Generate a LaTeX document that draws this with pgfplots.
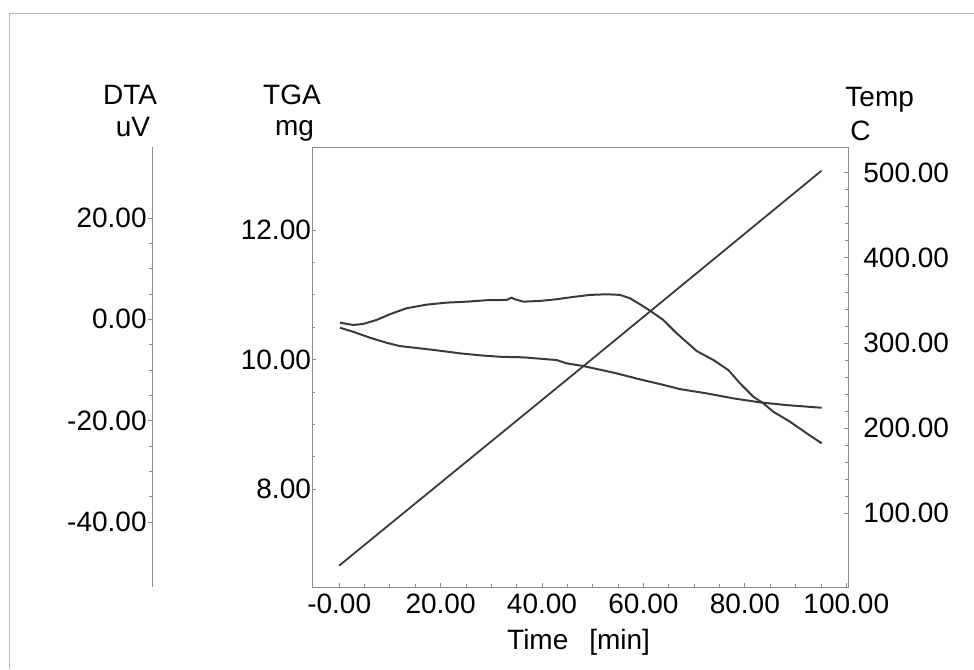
\documentclass[border=0pt]{standalone}
\usepackage{fontspec}
\setmainfont{Liberation Sans}
\usepackage{pgfplots}
\pgfplotsset{compat=1.18}

\definecolor{axisgray}{HTML}{8C8C8C}
\definecolor{curve}{HTML}{3A3A3A}

\pgfplotsset{
  box/.style={scale only axis, width=268pt, height=220pt,
    at={(156.15pt,41pt)}, anchor=south west, xmin=-5.3, xmax=100.4},
  every tick label/.append style={font=\fontsize{14}{16}\selectfont},
  thin axis/.style={axis line style={axisgray, line width=0.4pt},
    tick style={axisgray, line width=0.4pt},
    major tick length=2pt, minor tick length=1.5pt},
}

\begin{document}
\begin{tikzpicture}
\useasboundingbox (0,0) rectangle (487pt,334.5pt);
\draw[gray!55, line width=0.5pt] (4.5pt,0) -- (4.5pt,327.5pt) -- (487pt,327.5pt);

% TGA, left axis of the box
\begin{axis}[box, thin axis,
  ymin=6.49, ymax=13.28,
  tick align=inside,
  xtick pos=bottom, ytick pos=left,
  xtick={0,20,40,60,80,100},
  xticklabels={-0.00,20.00,40.00,60.00,80.00,100.00},
  ytick={8,10,12}, yticklabels={8.00,10.00,12.00},
  minor x tick num=3, minor y tick num=3,
  yticklabel style={inner xsep=0.5pt},
]
\addplot[curve, line width=1pt] coordinates {
  (0.14,10.491) (2.76,10.429) (6.06,10.337) (9.35,10.259) (11.97,10.208)
  (15.92,10.173) (19.86,10.136) (23.8,10.096) (27.75,10.065) (31.69,10.043)
  (36.3,10.034) (42.9,9.992) (44.85,9.941) (48.13,9.900) (54.71,9.787)
  (59.31,9.694) (63.25,9.622) (67.2,9.544) (72.47,9.478) (77.71,9.401)
  (82.98,9.339) (88.24,9.297) (95.15,9.256)
};
\end{axis}

% Temp, right axis
\begin{axis}[box, thin axis,
  ymin=13.4, ymax=530.2,
  axis y line*=right, hide x axis,
  tick align=inside,
  ytick={100,200,300,400,500},
  yticklabels={100.00,200.00,300.00,400.00,500.00},
  minor y tick num=4,
  yticklabel style={xshift=4pt},
]
\addplot[curve, line width=0.9pt] coordinates {
  (0,38.5) (48.2,273.0) (95.1,502.3)
};
\end{axis}

% DTA curve
\begin{axis}[box, ymin=-52.8, ymax=34.0, hide axis]
\addplot[curve, line width=1pt] coordinates {
  (0.14,-0.65) (2.76,-1.11) (4.73,-0.91) (7.38,-0.12) (10.0,1.01)
  (13.29,2.19) (17.24,2.90) (21.18,3.30) (25.13,3.49) (29.07,3.77)
  (33.02,3.83) (34.0,4.28) (34.65,3.97) (36.29,3.49) (39.59,3.63)
  (42.88,3.97) (46.15,4.42) (49.45,4.82) (52.74,4.95) (55.37,4.82)
  (57.34,4.16) (59.31,2.98) (61.29,1.72) (63.91,-0.12) (66.55,-2.74)
  (70.49,-6.24) (73.77,-8.01) (76.73,-9.99) (79.03,-12.61) (81.66,-15.25)
  (83.63,-16.56) (85.6,-18.22) (88.9,-20.19) (92.19,-22.48) (95.15,-24.45)
};
\end{axis}

% DTA scale, standing apart on the left
\begin{axis}[thin axis, scale only axis, width=20pt, height=220pt,
  at={(76pt,41pt)}, anchor=south west,
  xmin=0, xmax=1, ymin=-52.8, ymax=34.0,
  hide x axis, axis y line*=left,
  tick align=outside,
  ytick={-40,-20,0,20},
  yticklabels={-40.00,-20.00,0.00,20.00},
  minor y tick num=3,
  yticklabel style={inner xsep=0.5pt},
]
\end{axis}

\begin{scope}[every node/.style={inner sep=0pt, font=\fontsize{14}{16}\selectfont}]
\node[anchor=base] at (65pt,282pt) {DTA};
\node[anchor=base] at (66.5pt,266pt) {uV};
\node[anchor=base] at (146pt,282pt) {TGA};
\node[anchor=base] at (147.25pt,266.5pt) {mg};
\node[anchor=base west] at (422.5pt,281pt) {Temp};
\node[anchor=base west] at (425pt,264pt) {C};
\node[anchor=base] at (289.3pt,9.5pt) {Time\hspace{0.75em}[min]};
\end{scope}
\end{tikzpicture}
\end{document}
